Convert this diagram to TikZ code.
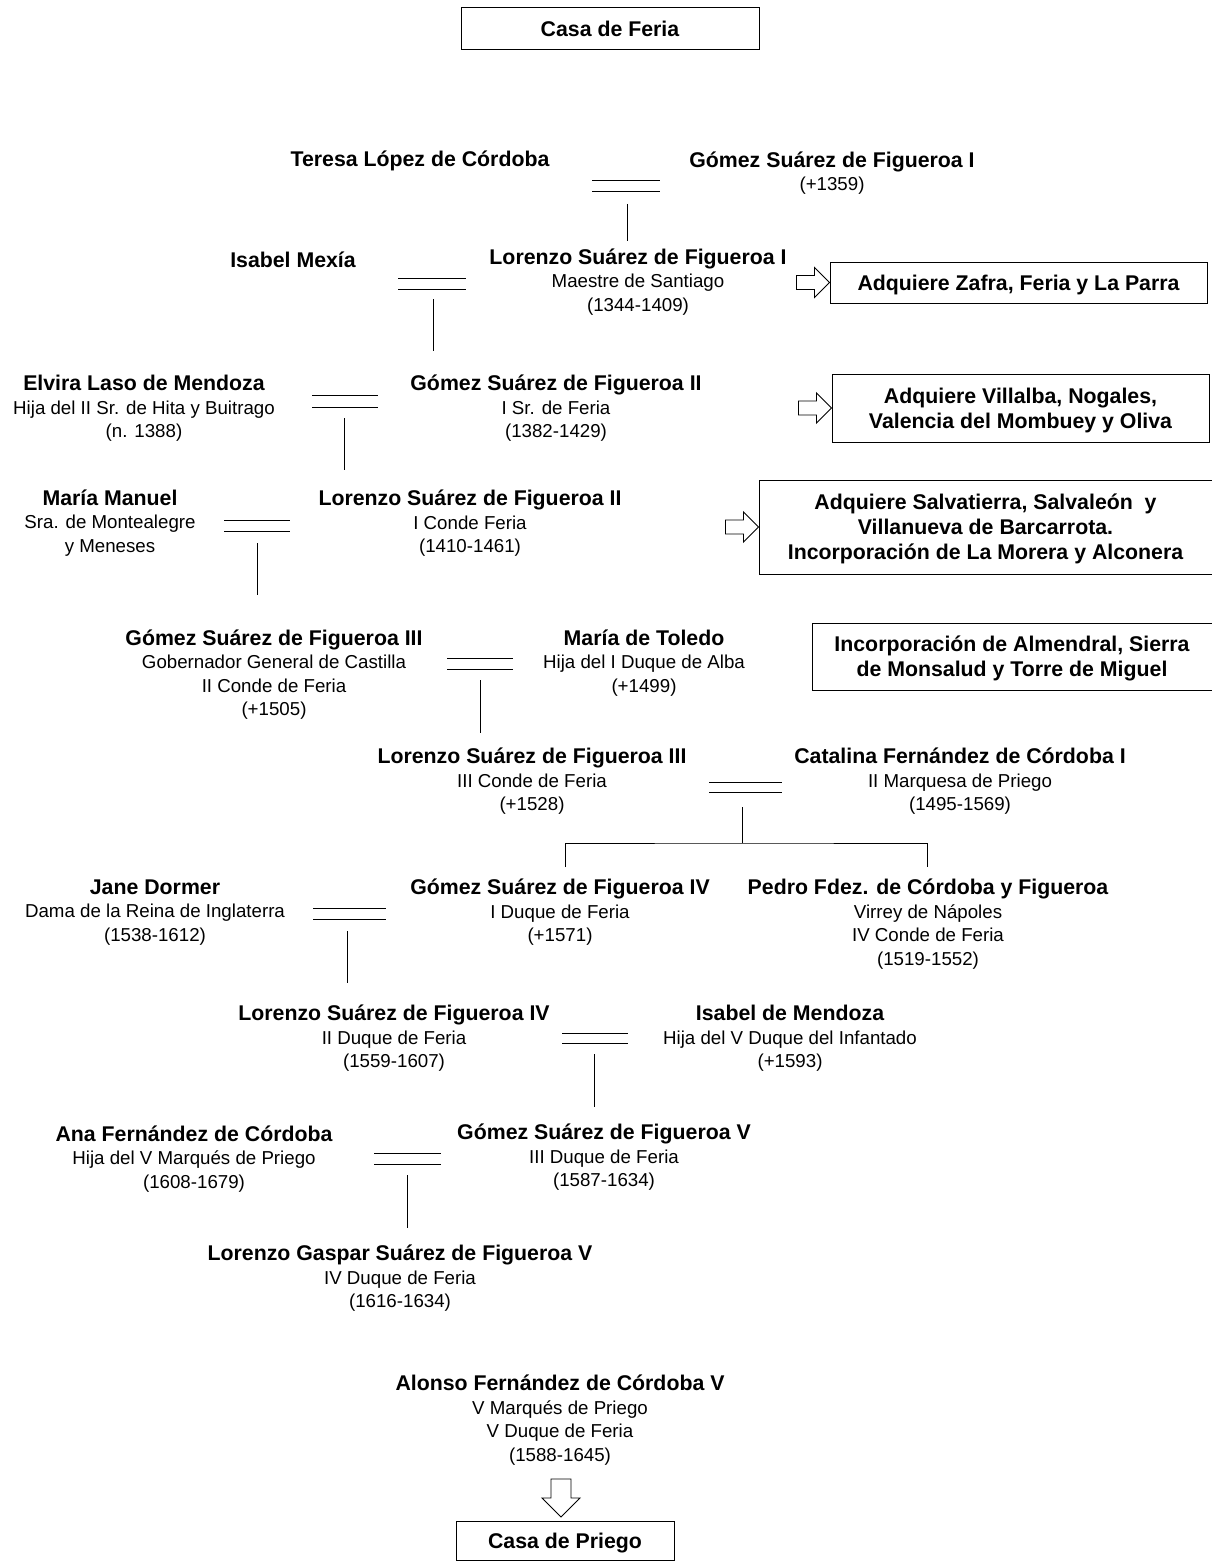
\documentclass[tikz,border=0pt]{standalone}
\usepackage{fontspec}
\setmainfont{Liberation Sans}
\newcommand\txtreg{\fontsize{18.7}{23.5}\selectfont}
\newcommand\txtbold{\fontsize{21.3}{23.5}\selectfont\bfseries}
\newcommand\nm[1]{{\txtbold #1}}
\begin{document}
\begin{tikzpicture}[x=1pt,y=-1pt,
  person/.style={align=center,inner sep=0pt,font=\txtreg,yshift=-1pt},
  infobox/.style={draw,line width=1pt,align=center,inner sep=0pt,text depth=0pt,
    font=\fontsize{21.3}{25}\selectfont\bfseries},
  bar/.style={line width=0.9pt},
  stem/.style={line width=0.9pt},
  pics/rarrow/.style={code={
    \draw[line width=0.9pt,fill=white] (-33,-7) -- (-15,-7) -- (-15,-15) -- (0,0)
      -- (-15,15) -- (-15,7) -- (-33,7) -- cycle;}},
  pics/darrow/.style={code={
    \draw[line width=0.9pt,fill=white] (-10,-38) -- (-10,-19) -- (-19,-19) -- (0,0)
      -- (19,-19) -- (10,-19) -- (10,-38) -- cycle;}}
]
\fill[white] (0,0) rectangle (1211,1562);
\useasboundingbox (0,0) rectangle (1211,1562);

% houses and territorial notes
\node[infobox,minimum width=298,minimum height=42] (feria) at (610,29) {Casa de Feria};
\node[infobox,minimum width=377,minimum height=41] (b1) at (1018.5,282.5) {Adquiere Zafra, Feria y La Parra};
\node[infobox,minimum width=377,minimum height=68] (b2) at (1020.5,408) {Adquiere Villalba, Nogales,\\Valencia del Mombuey y Oliva};
\node[infobox,minimum width=453,minimum height=94] (b3) at (985.5,527) {Adquiere Salvatierra, Salvaleón\ \ y\\Villanueva de Barcarrota.\\Incorporación de La Morera y Alconera};
\node[infobox,minimum width=400,minimum height=67] (b4) at (1012,656.5) {Incorporación de Almendral, Sierra\\de Monsalud y Torre de Miguel};
\node[infobox,minimum width=218,minimum height=39] (priego) at (565,1540.5) {Casa de Priego};

\pic at (b1.west) {rarrow};
\pic at (b2.west) {rarrow};
\pic at (b3.west) {rarrow};
\coordinate (down) at (561,1517);
\pic at (down) {darrow};

% people
\node[person] (teresa) at (420,160) {\nm{Teresa López de Córdoba}};
\node[person] (gomez1) at (832,172) {\nm{Gómez Suárez de Figueroa I}\\(+1359)};
\node[person] (isabelmx) at (293,259) {\nm{Isabel Mexía}};
\node[person] (lorenzo1) at (638,281) {\nm{Lorenzo Suárez de Figueroa I}\\Maestre de Santiago\\(1344-1409)};
\node[person] (elvira) at (144,407.5) {\nm{Elvira Laso de Mendoza}\\Hija del II Sr. de Hita y Buitrago\\(n. 1388)};
\node[person] (gomez2) at (556,407.5) {\nm{Gómez Suárez de Figueroa II}\\I Sr. de Feria\\(1382-1429)};
\node[person] (mariam) at (110,522) {\nm{María Manuel}\\Sra. de Montealegre\\y Meneses};
\node[person] (lorenzo2) at (470,522.5) {\nm{Lorenzo Suárez de Figueroa II}\\I Conde Feria\\(1410-1461)};
\node[person] (gomez3) at (274,673.5) {\nm{Gómez Suárez de Figueroa III}\\Gobernador General de Castilla\\II Conde de Feria\\(+1505)};
\node[person] (mariat) at (644,662) {\nm{María de Toledo}\\Hija del I Duque de Alba\\(+1499)};
\node[person] (lorenzo3) at (532,780.5) {\nm{Lorenzo Suárez de Figueroa III}\\III Conde de Feria\\(+1528)};
\node[person] (catalina) at (960,780.5) {\nm{Catalina Fernández de Córdoba I}\\II Marquesa de Priego\\(1495-1569)};
\node[person] (jane) at (155,911.5) {\nm{Jane Dormer}\\Dama de la Reina de Inglaterra\\(1538-1612)};
\node[person] (gomez4) at (560,911.5) {\nm{Gómez Suárez de Figueroa IV}\\I Duque de Feria\\(+1571)};
\node[person] (pedro) at (928,923) {\nm{Pedro Fdez. de Córdoba y Figueroa}\\Virrey de Nápoles\\IV Conde de Feria\\(1519-1552)};
\node[person] (lorenzo4) at (394,1037.5) {\nm{Lorenzo Suárez de Figueroa IV}\\II Duque de Feria\\(1559-1607)};
\node[person] (isabelmd) at (790,1037.5) {\nm{Isabel de Mendoza}\\Hija del V Duque del Infantado\\(+1593)};
\node[person] (ana) at (194,1158) {\nm{Ana Fernández de Córdoba}\\Hija del V Marqués de Priego\\(1608-1679)};
\node[person] (gomez5) at (604,1156.5) {\nm{Gómez Suárez de Figueroa V}\\III Duque de Feria\\(1587-1634)};
\node[person] (lorenzog) at (400,1277.5) {\nm{Lorenzo Gaspar Suárez de Figueroa V}\\IV Duque de Feria\\(1616-1634)};
\node[person] (alonso) at (560,1419) {\nm{Alonso Fernández de Córdoba V}\\V Marqués de Priego\\V Duque de Feria\\(1588-1645)};

% marriage bars (two short parallel rules) and descent stems
\draw[bar] (592,180) -- (660,180) (592,191) -- (660,191);
\coordinate (s1a) at (627,204); \coordinate (s1b) at (627,241);
\draw[stem] (s1a) -- (s1b);

\draw[bar] (398,278) -- (466,278) (398,289) -- (466,289);
\coordinate (s2a) at (433,299); \coordinate (s2b) at (433,351);
\draw[stem] (s2a) -- (s2b);

\draw[bar] (312,395.5) -- (378,395.5) (312,407) -- (378,407);
\coordinate (s3a) at (344,418); \coordinate (s3b) at (344,470);
\draw[stem] (s3a) -- (s3b);

\draw[bar] (224,520.5) -- (290,520.5) (224,531.5) -- (290,531.5);
\coordinate (s4a) at (257,543); \coordinate (s4b) at (257,595);
\draw[stem] (s4a) -- (s4b);

\draw[bar] (447,658) -- (513,658) (447,669) -- (513,669);
\coordinate (s5a) at (480,680); \coordinate (s5b) at (480,733);
\draw[stem] (s5a) -- (s5b);

\draw[bar] (709,782) -- (782,782) (709,792.5) -- (782,792.5);
\coordinate (s6a) at (742,807); \coordinate (s6b) at (742,843);
\coordinate (k6l) at (565,867); \coordinate (k6r) at (927,867);
\draw[stem] (s6a) -- (s6b);
\draw[stem] (k6l) |- (s6b) -| (k6r);

\draw[bar] (313,908) -- (386,908) (313,919) -- (386,919);
\coordinate (s7a) at (347,931); \coordinate (s7b) at (347,983);
\draw[stem] (s7a) -- (s7b);

\draw[bar] (562,1033) -- (628,1033) (562,1043.5) -- (628,1043.5);
\coordinate (s8a) at (594,1054); \coordinate (s8b) at (594,1107);
\draw[stem] (s8a) -- (s8b);

\draw[bar] (374,1153) -- (441,1153) (374,1164) -- (441,1164);
\coordinate (s9a) at (407,1175); \coordinate (s9b) at (407,1228);
\draw[stem] (s9a) -- (s9b);
\end{tikzpicture}
\end{document}
